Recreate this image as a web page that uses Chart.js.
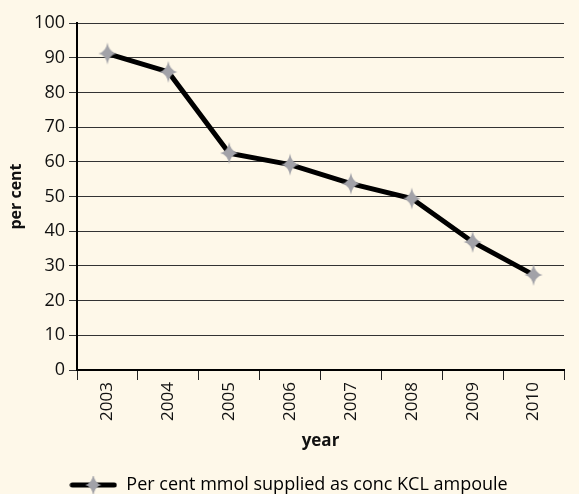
<!DOCTYPE html>
<html>
<head>
<meta charset="utf-8">
<script src="https://cdn.jsdelivr.net/npm/chart.js@4.4.1/dist/chart.umd.min.js"></script>
<style>
  html, body { margin: 0; padding: 0; background: #fef8e9; }
  #chart { display: block; }
</style>
</head>
<body>
<canvas id="chart" width="579" height="494"></canvas>
<script>
// ---- data ----
const years = ["2003", "2004", "2005", "2006", "2007", "2008", "2009", "2010"];
const percentValues = [91.2, 85.9, 62.5, 59.2, 53.7, 49.4, 36.9, 27.4];
const seriesLabel = "Per cent mmol supplied as conc KCL ampoule";
const yMin = 0, yMax = 100, yStep = 10;

const FONT = "'Open Sans', sans-serif";
const STAR_COLOR = "#a2a2a8";

// 4-point star marker drawn once on a small canvas
function drawStar(ctx, cx, cy, w, h) {
  ctx.fillStyle = STAR_COLOR;
  ctx.beginPath();
  ctx.moveTo(cx, cy - h / 2);
  ctx.quadraticCurveTo(cx + w * 0.08, cy - h * 0.08, cx + w / 2, cy);
  ctx.quadraticCurveTo(cx + w * 0.08, cy + h * 0.08, cx, cy + h / 2);
  ctx.quadraticCurveTo(cx - w * 0.08, cy + h * 0.08, cx - w / 2, cy);
  ctx.quadraticCurveTo(cx - w * 0.08, cy - h * 0.08, cx, cy - h / 2);
  ctx.closePath();
  ctx.fill();
}

const starImg = document.createElement("canvas");
starImg.width = 20; starImg.height = 24;
drawStar(starImg.getContext("2d"), 10, 12, 18, 22);

// legend symbol: line with star in the middle
const legendImg = document.createElement("canvas");
legendImg.width = 48; legendImg.height = 24;
(function () {
  const c = legendImg.getContext("2d");
  c.strokeStyle = "#000";
  c.lineWidth = 5;
  c.lineCap = "round";
  c.beginPath();
  c.moveTo(3, 12); c.lineTo(45, 12);
  c.stroke();
  drawStar(c, 24, 12, 16, 22);
})();

new Chart(document.getElementById("chart"), {
  type: "line",
  data: {
    labels: years,
    datasets: [{
      label: seriesLabel,
      data: percentValues,
      borderColor: "#000",
      borderWidth: 5,
      tension: 0,
      pointStyle: starImg,
      pointRadius: 10,
      fill: false
    }]
  },
  options: {
    responsive: false,
    animation: false,
    layout: { padding: { left: 0, right: 2, top: 23, bottom: -10 } },
    plugins: {
      tooltip: { enabled: false },
      legend: {
        position: "bottom",
        labels: {
          usePointStyle: true,
          pointStyleWidth: 48,
          color: "#111",
          font: { family: FONT, size: 18 },
          padding: 0,
          generateLabels: () => [{
            text: seriesLabel,
            pointStyle: legendImg,
            fillStyle: "#000",
            strokeStyle: "#000",
            lineWidth: 0,
            hidden: false,
            datasetIndex: 0
          }]
        }
      }
    },
    scales: {
      x: {
        offset: true,
        grid: {
          offset: true,
          drawOnChartArea: false,
          drawTicks: true,
          tickLength: 10,
          color: "#222",
          lineWidth: 1
        },
        border: { color: "#000", width: 2 },
        ticks: {
          minRotation: 90,
          maxRotation: 90,
          color: "#111",
          padding: 2,
          font: { family: FONT, size: 17 }
        },
        title: {
          display: true,
          text: "year",
          color: "#111",
          font: { family: FONT, size: 17, weight: "bold" },
          padding: { top: 4, bottom: 25 }
        },
        afterFit: (scale) => { scale.height = 106; }
      },
      y: {
        min: yMin,
        max: yMax,
        ticks: {
          stepSize: yStep,
          color: "#111",
          padding: 4,
          font: { family: FONT, size: 18 }
        },
        grid: {
          color: "#333",
          lineWidth: 1,
          tickLength: 8
        },
        border: { color: "#000", width: 2 },
        title: {
          display: true,
          text: "per cent",
          color: "#111",
          font: { family: FONT, size: 16, weight: "bold" },
          padding: { top: 7, bottom: 6 }
        },
        afterFit: (scale) => { scale.width = 77; }
      }
    }
  }
});
</script>
</body>
</html>
